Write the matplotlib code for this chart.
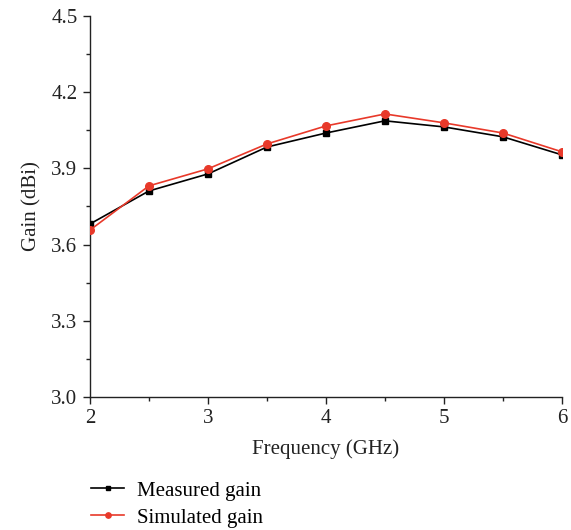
import matplotlib
matplotlib.use("Agg")
import matplotlib.pyplot as plt
from matplotlib.ticker import MultipleLocator, FormatStrFormatter

freq = [2.0, 2.5, 3.0, 3.5, 4.0, 4.5, 5.0, 5.5, 6.0]
measured = [3.681, 3.811, 3.878, 3.984, 4.039, 4.087, 4.063, 4.024, 3.953]
simulated = [3.657, 3.831, 3.898, 3.996, 4.067, 4.114, 4.079, 4.039, 3.965]

plt.rcParams["font.family"] = ["Liberation Serif", "DejaVu Serif"]

fig = plt.figure(figsize=(5.71, 5.30), dpi=100)
ax = fig.add_axes([0.1576, 0.251, 0.8266, 0.719])

ax.plot(freq, measured, color="black", lw=1.2, marker="s", ms=5,
        label="Measured gain", zorder=3)
ax.plot(freq, simulated, color="#e8392a", lw=1.2, marker="o", ms=5.5,
        label="Simulated gain", zorder=4)

ax.set_xlim(2, 6)
ax.set_ylim(3.0, 4.5)
ax.xaxis.set_major_locator(MultipleLocator(1))
ax.xaxis.set_minor_locator(MultipleLocator(0.5))
ax.yaxis.set_major_locator(MultipleLocator(0.3))
ax.yaxis.set_minor_locator(MultipleLocator(0.15))
ax.yaxis.set_major_formatter(FormatStrFormatter("%.1f"))

for s in ("top", "right"):
    ax.spines[s].set_visible(False)
for s in ("left", "bottom"):
    ax.spines[s].set_linewidth(1.0)
    ax.spines[s].set_color("#222222")

ax.tick_params(which="major", direction="out", length=5, width=1,
               labelsize=15, colors="#222222", pad=4)
ax.tick_params(which="minor", direction="out", length=3, width=1,
               colors="#222222")

ax.set_xlabel("Frequency (GHz)", fontsize=15, color="#222222", labelpad=8)
ax.set_ylabel("Gain (dBi)", fontsize=15, color="#222222", labelpad=7)

fig.legend(loc="upper left", bbox_to_anchor=(0.1445, 0.108), frameon=False,
           fontsize=15, handlelength=1.6, handletextpad=0.6,
           labelspacing=0.35, borderaxespad=0, markerscale=0.7)

fig.savefig("out.png", dpi=100)
